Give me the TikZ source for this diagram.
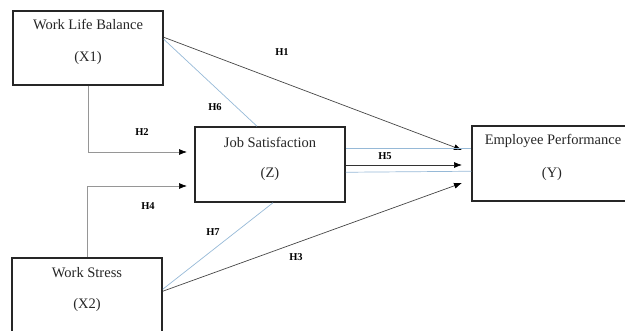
\documentclass[tikz,border=0pt]{standalone}
\usepackage{fontspec}
\setmainfont{Liberation Serif}
\usetikzlibrary{arrows.meta,calc}
\definecolor{lblue}{RGB}{150,185,215}
\definecolor{lgrey}{RGB}{150,150,150}
\definecolor{dgrey}{RGB}{70,70,70}
\begin{document}
\begin{tikzpicture}[x=1pt,y=-1pt,
  box/.style={draw=black!85,line width=1.5pt,inner sep=0pt},
  txt/.style={font=\fontsize{14.5}{16}\selectfont,inner sep=0pt,text=black!85},
  hlab/.style={font=\fontsize{10.5}{12}\selectfont\bfseries,inner sep=0pt},
  tip/.style={-{Latex[length=8pt,width=6pt,black]}},
  thinl/.style={line width=0.7pt}]
\useasboundingbox (0,0) rectangle (625,331);
% boxes
\node[box,minimum width=150pt,minimum height=74pt] (x1) at (88,48) {};
\node[box,minimum width=150pt,minimum height=75pt] (z) at (270,164.5) {};
\node[box,minimum width=160pt,minimum height=75pt] (y) at (552,163.5) {};
\node[box,minimum width=150pt,minimum height=84pt] (x2) at (87,300) {};
% texts
\node[txt] (t1a) at (88,25) {Work Life Balance};
\node[txt] (t1b) at (88,58) {(X1)};
\node[txt] (tza) at (270,142) {Job Satisfaction};
\node[txt] (tzb) at (270,174) {(Z)};
\node[txt] (tya) at (553,141) {Employee Performance};
\node[txt] (tyb) at (552,174) {(Y)};
\node[txt] (t2a) at (87,273) {Work Stress};
\node[txt] (t2b) at (87,305) {(X2)};
% end coordinates
\coordinate (h2end) at (187,152);
\coordinate (h4end) at (187,186);
\coordinate (h1end) at (462,150);
\coordinate (h3end) at (462,183);
\coordinate (h5end) at (462,165);
% connectors
\draw[lgrey,thinl,tip] (x1.south) |- (h2end);
\draw[lgrey,thinl,tip] (x2.north) |- (h4end);
\draw[dgrey,thinl,tip] ($(x1.north east)+(0,27)$) -- (h1end);
\draw[lblue,thinl] ($(x1.north east)+(0,29)$) -- ($(z.north)+(-13,0)$);
\draw[lblue,thinl] ($(x2.north east)+(0,32)$) -- ($(z.south)+(3,0)$);
\draw[dgrey,thinl,tip] ($(x2.north east)+(0,34)$) -- (h3end);
\draw[lblue,thinl] ($(z.north east)+(0,22)$) -- ($(y.north west)+(0,23)$);
\draw[black!80,thinl,tip] (z.east |- h5end) -- (h5end);
\draw[lblue,thinl] ($(z.north east)+(0,46)$) -- ($(y.north west)+(0,46)$);
% labels
\node[hlab] (l1) at (282,52) {H1};
\node[hlab] (l6) at (215,107) {H6};
\node[hlab] (l2) at (142,132) {H2};
\node[hlab] (l5) at (385,156) {H5};
\node[hlab] (l4) at (148,206) {H4};
\node[hlab] (l7) at (213,232) {H7};
\node[hlab] (l3) at (296,257) {H3};
\end{tikzpicture}
\end{document}
